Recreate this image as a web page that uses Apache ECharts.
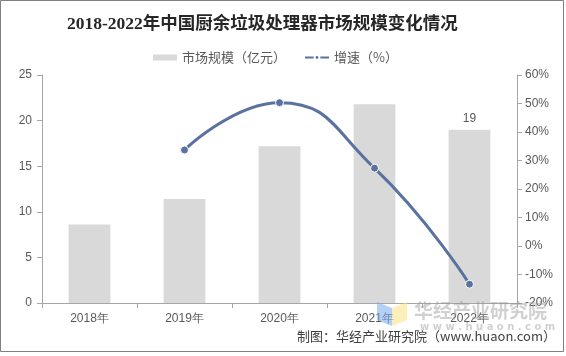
<!DOCTYPE html>
<html><head><meta charset="utf-8">
<script src="https://cdn.jsdelivr.net/npm/echarts@6/dist/echarts.min.js"></script>
<style>html,body{margin:0;padding:0;background:#fff}#c{width:566px;height:356px}</style>
</head><body><div id="c"></div>
<script>
const categories = ['2018年','2019年','2020年','2021年','2022年'];
const marketSize = [8.6, 11.4, 17.2, 21.8, 19];
const growth = [null, 33.7, 50.3, 27.3, -13.4];
const leftTicks = [0, 5, 10, 15, 20, 25];
const rightTicks = [-20, -10, 0, 10, 20, 30, 40, 50, 60];

const chart = echarts.init(document.getElementById('c'), null, {renderer: 'canvas'});
const axisColor = '#a6a6a6';
const labelColor = '#595959';
chart.setOption({
  animation: false,
  title: {
    text: '2018-2022年中国厨余垃圾处理器市场规模变化情况',
    left: 62, top: 11,
    textStyle: {fontFamily: '"Liberation Serif","Noto Sans CJK SC"', fontSize: 17.5, fontWeight: 'bold', color: '#262626'}
  },
  legend: {
    top: 46, left: 148, itemGap: 18,
    textStyle: {color: labelColor, fontSize: 13, fontFamily: '"Noto Sans CJK SC"'},
    data: [
      {name: '市场规模（亿元）', icon: 'rect', itemStyle: {color: '#d9d9d9'}},
      {name: '增速（%）'}
    ],
    itemWidth: 24, itemHeight: 6
  },
  grid: {left: 42, right: 49, top: 75, bottom: 53},
  xAxis: {
    type: 'category', data: categories,
    axisLine: {lineStyle: {color: axisColor}},
    axisTick: {show: true, alignWithLabel: false, lineStyle: {color: axisColor}},
    axisLabel: {color: labelColor, fontSize: 12, margin: 10}
  },
  yAxis: [
    {type: 'value', min: leftTicks[0], max: leftTicks[leftTicks.length-1], interval: 5,
     axisLine: {show: true, lineStyle: {color: axisColor}},
     axisTick: {show: true, lineStyle: {color: axisColor}},
     splitLine: {show: false},
     axisLabel: {color: labelColor, fontSize: 12, margin: 10}},
    {type: 'value', min: rightTicks[0], max: rightTicks[rightTicks.length-1], interval: 10,
     axisLine: {show: true, lineStyle: {color: axisColor}},
     axisTick: {show: true, lineStyle: {color: axisColor}},
     splitLine: {show: false},
     axisLabel: {color: labelColor, fontSize: 12, margin: 8, formatter: '{value}%'}}
  ],
  series: [
    {name: '市场规模（亿元）', type: 'bar', data: marketSize, barWidth: '44%',
     itemStyle: {color: '#d9d9d9'},
     label: {show: true, position: 'top', color: labelColor, fontSize: 12,
       formatter: p => p.dataIndex === 4 ? String(p.value) : ''}},
    {name: '增速（%）', type: 'line', yAxisIndex: 1, data: growth, smooth: 0.5,
     symbol: 'circle', symbolSize: 8,
     lineStyle: {color: '#5a72a0', width: 3},
     itemStyle: {color: '#5a72a0', borderColor: '#fff', borderWidth: 1}}
  ],
  graphic: [
    {type: 'rect', shape: {x: 0.5, y: 0.5, width: 563, height: 351}, style: {fill: 'none', stroke: '#7f7f7f', lineWidth: 1}, z: 100},
    {type: 'polygon', shape: {points: [[377,302],[392,308],[392,326],[377,320]]}, style: {fill: 'rgba(120,170,240,0.55)'}, z: 50},
    {type: 'polygon', shape: {points: [[392,308],[407,302],[407,320],[392,326]]}, style: {fill: 'rgba(250,225,130,0.55)'}, z: 50},
    {type: 'text', x: 414, y: 301, style: {text: '华经产业研究院', fill: 'rgba(150,150,150,0.45)', font: 'bold 19px "Noto Sans CJK SC"'}, z: 50},
    {type: 'text', x: 420, y: 322, style: {text: 'w w w . h u a o n . c o m', fill: 'rgba(150,150,150,0.45)', font: 'bold 10px "DejaVu Sans"'}, z: 50},
    {type: 'text', right: 10, y: 330, style: {text: '制图：华经产业研究院（www.huaon.com）', fill: '#404040', font: '13px "Noto Sans CJK SC"'}, z: 60}
  ]
});
</script></body></html>
